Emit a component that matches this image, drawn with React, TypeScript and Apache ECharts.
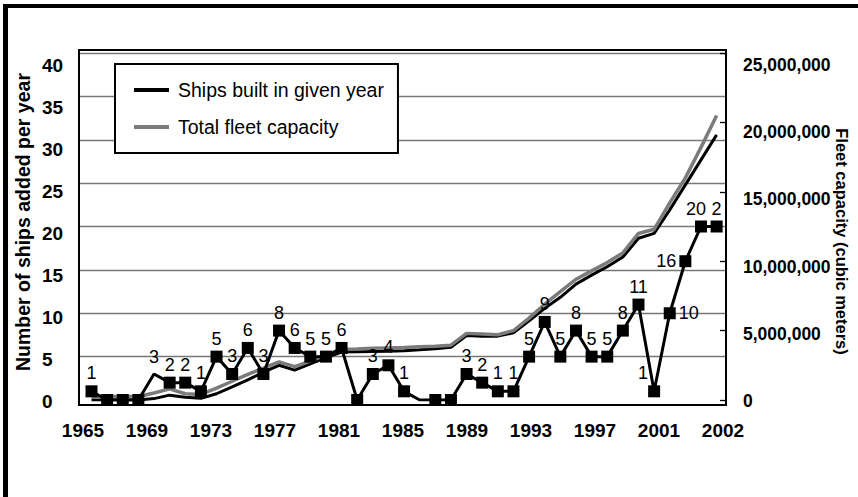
import React, { useEffect, useRef } from 'react';
import * as echarts from 'echarts';

const FONT = "'Liberation Sans', Arial, Helvetica, sans-serif";

// Years plotted (hidden data axis)
const years = [
  1965, 1966, 1967, 1968, 1969, 1970, 1971, 1972, 1973, 1974,
  1975, 1976, 1977, 1978, 1979, 1980, 1981, 1982, 1983, 1984,
  1985, 1986, 1987, 1988, 1989, 1990, 1991, 1992, 1993, 1994,
  1995, 1996, 1997, 1998, 1999, 2000, 2001, 2002, 2003, 2004, 2005,
];

// Ships built in given year (left axis)
const shipsBuilt = [
  1, 0, 0, 0, 3, 2, 2, 1, 5, 3,
  6, 3, 8, 6, 5, 5, 6, 0, 3, 4,
  1, 0, 0, 0, 3, 2, 1, 1, 5, 9,
  5, 8, 5, 5, 8, 11, 1, 10, 16, 20, 20,
];

// Data labels as printed on the chart
const shipLabels = [
  '1', '', '', '', '3', '2', '2', '1', '5', '3',
  '6', '3', '8', '6', '5', '5', '6', '', '3', '4',
  '1', '', '', '', '3', '2', '1', '1', '5', '9',
  '5', '8', '5', '5', '8', '11', '1', '10', '16', '20', '2',
];

// Total fleet capacity, cubic meters (right axis, grey)
const totalFleetCapacity = [
  250000, 250000, 250000, 250000, 500000, 800000, 450000, 400000, 850000, 1350000,
  1850000, 2300000, 2750000, 2400000, 2800000, 3250000, 3650000, 3680000, 3720000, 3750000,
  3780000, 3830000, 3880000, 3950000, 4800000, 4750000, 4700000, 5000000, 5900000, 6900000,
  7800000, 8700000, 9300000, 9900000, 10600000, 12000000, 12300000, 14200000, 16000000, 18200000, 20500000,
];

// Second (black, unlabelled) capacity line
const builtFleetCapacity = [
  0, 0, 0, 0, 100000, 350000, 200000, 120000, 450000, 950000,
  1450000, 2000000, 2500000, 2150000, 2600000, 3050000, 3450000, 3480000, 3500000, 3520000,
  3550000, 3620000, 3700000, 3800000, 4650000, 4600000, 4600000, 4850000, 5700000, 6600000,
  7400000, 8350000, 9000000, 9600000, 10300000, 11650000, 12000000, 13700000, 15500000, 17300000, 19100000,
];

const xTickLabels = ['1965', '1969', '1973', '1977', '1981', '1985', '1989', '1993', '1997', '2001', '2002'];

const SHIPS_NAME = 'Ships built in given year';
const TOTAL_NAME = 'Total fleet capacity';

// points drawn without a square marker
const hiddenMarkers = [4, 21];
// individual label placements
const labelTweaks: Record<number, any> = {
  36: { offset: [-11, 0] },
  37: { position: 'right', distance: 3 },
  38: { position: 'left', distance: 3 },
  39: { offset: [-5, 0] },
};

export default function App() {
  const ref = useRef<HTMLDivElement>(null);

  useEffect(() => {
    if (!ref.current) return;
    const chart = echarts.init(ref.current, undefined, { renderer: 'svg' });

    const shipData = years.map((y, i) => {
      const item: any = { value: [y, shipsBuilt[i]] };
      if (hiddenMarkers.includes(i)) {
        item.symbolSize = 0.1;
        item.label = { offset: [0, -5] };
      }
      if (labelTweaks[i]) item.label = { ...(item.label || {}), ...labelTweaks[i] };
      return item;
    });
    const totalData = years.map((y, i) => [y, totalFleetCapacity[i]]);
    const builtData = years.map((y, i) => [y, builtFleetCapacity[i]]);

    const option: any = {
      animation: false,
      backgroundColor: '#fff',
      textStyle: { fontFamily: FONT },
      grid: [
        { left: 79, right: 132, top: 53, bottom: 97 },
        { left: 83, right: 135, top: 65, bottom: 96 },
      ],
      legend: {
        data: [
          { name: SHIPS_NAME, icon: 'rect' },
          { name: TOTAL_NAME, icon: 'rect' },
        ],
        orient: 'vertical',
        left: 115,
        top: 64,
        itemWidth: 35,
        itemHeight: 4,
        itemGap: 17,
        padding: [16, 14, 16, 19],
        backgroundColor: '#fff',
        borderColor: '#000',
        borderWidth: 2,
        selectedMode: false,
        textStyle: { fontSize: 19.5, color: '#000', fontFamily: FONT, padding: [0, 0, 0, 4] },
      },
      xAxis: [
        {
          gridIndex: 0,
          type: 'value',
          min: 1964.2,
          max: 2005.6,
          show: false,
        },
        {
          gridIndex: 1,
          type: 'category',
          data: xTickLabels,
          boundaryGap: false,
          axisLine: { show: false },
          axisTick: { show: false },
          splitLine: { show: false },
          axisLabel: {
            interval: 0,
            margin: 20,
            fontSize: 19,
            fontWeight: 'bold',
            color: '#000',
            fontFamily: FONT,
          },
        },
      ],
      yAxis: [
        {
          gridIndex: 0,
          type: 'value',
          min: 0,
          max: 40,
          interval: 5,
          axisLine: { show: false },
          axisTick: { show: false },
          axisLabel: { show: false },
          splitLine: { show: true, showMinLine: false, lineStyle: { color: '#777', width: 1.3 } },
          name: 'Number of ships added per year',
          nameLocation: 'middle',
          nameGap: 46,
          nameTextStyle: {
            fontSize: 19.5,
            fontWeight: 'bold',
            color: '#000',
            fontFamily: FONT,
            padding: [0, 0, 0, 9],
          },
        },
        {
          gridIndex: 0,
          type: 'value',
          position: 'right',
          min: 0,
          max: 25000000,
          interval: 5000000,
          axisLine: { show: false },
          axisTick: { show: true, inside: true, length: 6, lineStyle: { color: '#000', width: 1.3 } },
          axisLabel: { show: false },
          splitLine: { show: false },
          name: 'Fleet capacity (cubic meters)',
          nameLocation: 'middle',
          nameRotate: -90,
          nameGap: 107,
          nameTextStyle: {
            fontSize: 16.5,
            fontWeight: 'bold',
            color: '#000',
            fontFamily: FONT,
            padding: [0, 0, 0, 30],
          },
        },
        {
          gridIndex: 1,
          type: 'value',
          position: 'left',
          min: 0,
          max: 40,
          interval: 5,
          axisLine: { show: false },
          axisTick: { show: false },
          splitLine: { show: false },
          axisLabel: {
            align: 'left',
            margin: 41,
            fontSize: 19,
            fontWeight: 'bold',
            color: '#000',
            fontFamily: FONT,
          },
        },
        {
          gridIndex: 1,
          type: 'value',
          position: 'right',
          min: 0,
          max: 25000000,
          interval: 5000000,
          axisLine: { show: false },
          axisTick: { show: false },
          splitLine: { show: false },
          axisLabel: {
            margin: 20,
            fontSize: 17.5,
            fontWeight: 'bold',
            color: '#000',
            fontFamily: FONT,
            formatter: (v: number) => v.toLocaleString('en-US'),
          },
        },
      ],
      series: [
        {
          name: 'Fleet capacity (black)',
          type: 'line',
          xAxisIndex: 0,
          yAxisIndex: 1,
          data: builtData,
          symbol: 'none',
          lineStyle: { color: '#000', width: 3 },
          itemStyle: { color: '#000' },
          z: 2,
        },
        {
          name: TOTAL_NAME,
          type: 'line',
          xAxisIndex: 0,
          yAxisIndex: 1,
          data: totalData,
          symbol: 'none',
          lineStyle: { color: '#7b7b7b', width: 3.5 },
          itemStyle: { color: '#7b7b7b' },
          z: 3,
        },
        {
          name: SHIPS_NAME,
          type: 'line',
          xAxisIndex: 0,
          yAxisIndex: 0,
          data: shipData,
          symbol: 'rect',
          symbolSize: 12,
          lineStyle: { color: '#000', width: 3 },
          itemStyle: { color: '#000' },
          z: 4,
          label: {
            show: true,
            position: 'top',
            distance: 3,
            fontSize: 18,
            color: '#000',
            fontFamily: FONT,
            formatter: (p: any) => shipLabels[p.dataIndex],
          },
        },
      ],
      graphic: [
        {
          type: 'rect',
          shape: { x: 79, y: 50, width: 647, height: 355 },
          style: { fill: 'none', stroke: '#000', lineWidth: 2 },
          z: 10,
          silent: true,
        },
        {
          type: 'rect',
          shape: { x: 3, y: 4, width: 855, height: 4 },
          style: { fill: '#000' },
          silent: true,
        },
        {
          type: 'rect',
          shape: { x: 3, y: 4, width: 5, height: 493 },
          style: { fill: '#000' },
          silent: true,
        },
      ],
    };

    chart.setOption(option);
    return () => chart.dispose();
  }, []);

  return (
    <div
      ref={ref}
      style={{ position: 'fixed', left: 0, top: 0, width: 858, height: 497, background: '#fff' }}
    />
  );
}
